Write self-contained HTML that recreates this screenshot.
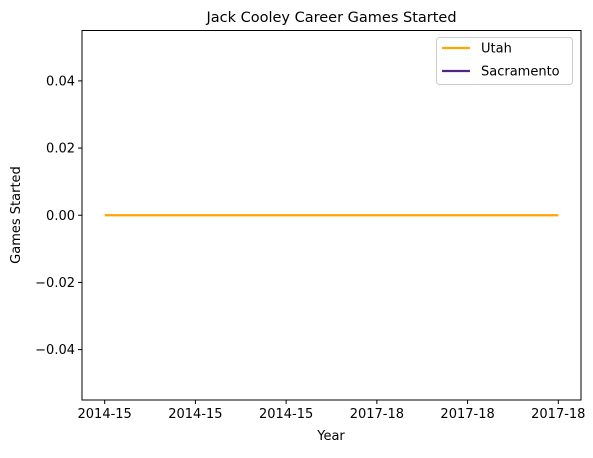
<!DOCTYPE html>
<html><head><meta charset="utf-8"><style>
body{margin:0;background:#fff;font-family:"Liberation Sans","DejaVu Sans",sans-serif}
</style></head><body>
<svg id="chart" width="593" height="453" xmlns="http://www.w3.org/2000/svg" font-family="DejaVu Sans, Liberation Sans, sans-serif">
<text x="331.5" y="22" text-anchor="middle" font-size="14.5">Jack Cooley Career Games Started</text>
<rect x="82" y="30.5" width="499" height="369.5" fill="none" stroke="#000" stroke-width="1"/>
<g id="yaxis"></g>
<g id="xaxis"></g>
<g id="series"></g>
<text x="331" y="440" text-anchor="middle" font-size="13">Year</text>
<text transform="translate(20,215) rotate(-90)" text-anchor="middle" font-size="13">Games Started</text>
<g>
<rect x="436.5" y="37.5" width="136" height="47" rx="3" fill="#fff" stroke="#ccc"/>
<line x1="442" y1="48" x2="470" y2="48" stroke="#FFA500" stroke-width="2.2"/>
<text x="481" y="52.5" font-size="13">Utah</text>
<line x1="442" y1="71" x2="470" y2="71" stroke="#552583" stroke-width="2.2"/>
<text x="481" y="75.5" font-size="13">Sacramento</text>
</g>
</svg>
<script>
const categories = ["2014-15","2014-15","2014-15","2017-18","2017-18","2017-18"];
const utahValues = [0,0,0,0,0,0];
const sacramentoValues = [];
const yTicks = [-0.04,-0.02,0.00,0.02,0.04];
const NS="http://www.w3.org/2000/svg";
const L=82,R=581,T=30.5,B=400;
const n=categories.length;
const xs=i=>L+(i+0.25)/(n-1+0.5)*(R-L);
const ys=v=>T+(0.055-v)/0.11*(B-T);
function mk(t,a,p){const e=document.createElementNS(NS,t);for(const k in a)e.setAttribute(k,a[k]);p.appendChild(e);return e;}
const ya=document.getElementById('yaxis'),xa=document.getElementById('xaxis'),se=document.getElementById('series');
yTicks.forEach(v=>{const y=ys(v);
 const l=mk('line',{x1:L-4,x2:L,y1:y,y2:y,stroke:'#000'},ya);
 
 
 const t=mk('text',{x:L-7,y:y+4.5,'text-anchor':'end','font-size':'13'},ya);t.textContent=v.toFixed(2).replace('-','\u2212');
 
 });
categories.forEach((c,i)=>{const x=xs(i);
 const l=mk('line',{x1:x,x2:x,y1:B,y2:B+4,stroke:'#000'},xa);
 
 
 const t=mk('text',{x:x,y:B+18,'text-anchor':'middle','font-size':'13'},xa);t.textContent=c;
 
 });
function line(vals,color,name){if(!vals.length)return;
 const p=mk('polyline',{points:vals.map((v,i)=>xs(i)+','+ys(v)).join(' '),fill:'none',stroke:color,'stroke-width':2.2},se);
 
 }
line(utahValues,'#FFA500','utah-line');
line(sacramentoValues,'#552583','sacramento-line');
</script>
</body></html>
